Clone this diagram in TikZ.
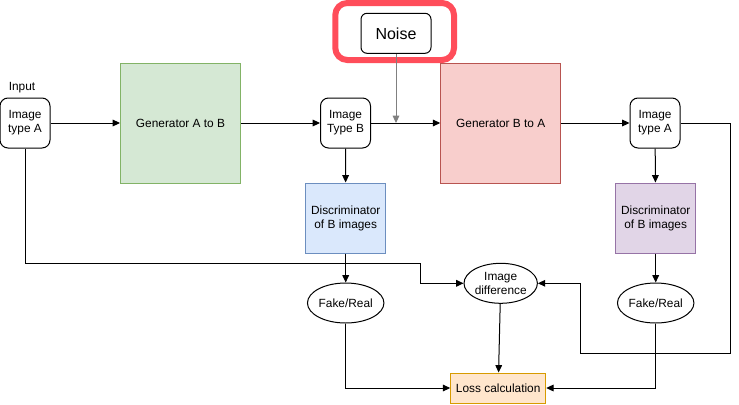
\documentclass[tikz,border=0pt]{standalone}
\usepackage{fontspec}
\setmainfont{Liberation Sans}
\usetikzlibrary{shapes.geometric,arrows.meta}
\tikzset{every picture/.style={line width=0.75pt}}

\definecolor{genAfill}{HTML}{D5E8D4}
\definecolor{genAdraw}{HTML}{82B366}
\definecolor{genBfill}{HTML}{F8CECC}
\definecolor{genBdraw}{HTML}{B85450}
\definecolor{discBfill}{HTML}{DAE8FC}
\definecolor{discBdraw}{HTML}{6C8EBF}
\definecolor{discAfill}{HTML}{E1D5E7}
\definecolor{discAdraw}{HTML}{9673A6}
\definecolor{lossfill}{HTML}{FFE6CC}
\definecolor{lossdraw}{HTML}{D79B00}
\definecolor{hilite}{HTML}{FF4D5A}

\begin{document}
\begin{tikzpicture}[x=0.75pt,y=0.75pt,yscale=-1,xscale=1,
  font=\fontsize{8.9}{10.6}\selectfont,
  imgbox/.style={draw, rounded corners=6pt, minimum width=37.5pt, minimum height=37.5pt, align=center, inner sep=1pt},
  genbox/.style={draw, minimum width=90pt, minimum height=90pt},
  discbox/.style={draw, minimum width=60pt, minimum height=52.5pt, align=center, inner sep=1pt},
  oval/.style={draw, ellipse, minimum width=52.5pt, minimum height=30pt, inner sep=0pt, align=center},
  arr/.style={-{Triangle[length=5.5pt,width=5pt]}},
]
\useasboundingbox (0,0) rectangle (739,404);

%Rounded Rect: highlight round noise
\draw [color=hilite, line width=4.5pt, rounded corners=9pt] (335.3,3) rectangle (454,60);

%Shapes
\node [imgbox] (imgA) at (25,123) {Image\\type A};
\node [genbox, fill=genAfill, draw=genAdraw] (genAB) at (180.5,123) {Generator A to B};
\node [imgbox] (imgB) at (345.5,123) {Image\\Type B};
\node [draw, rounded corners=4.5pt, minimum width=52.5pt, minimum height=30pt, font=\fontsize{12}{14}\selectfont] (noise) at (396,33.3) {Noise};
\node [genbox, fill=genBfill, draw=genBdraw] (genBA) at (500.7,123) {Generator B to A};
\node [imgbox] (imgA2) at (655,123) {Image\\type A};
\node [discbox, fill=discBfill, draw=discBdraw] (discB) at (345.7,218) {Discriminator\\of B images};
\node [discbox, fill=discAfill, draw=discAdraw] (discA) at (655.7,218) {Discriminator\\of B images};
\node [oval] (fakeB) at (345.7,303) {Fake/Real};
\node [oval] (fakeA) at (655.7,303) {Fake/Real};
\node [oval] (diff) at (500.7,283.3) {Image\\difference};
\node [draw=lossdraw, fill=lossfill, minimum width=71.25pt, minimum height=22.5pt, inner sep=1pt] (loss) at (498.2,388) {Loss calculation};

% Text Node
\node (input) at (22,88) {Input};

%Connectors
\draw [arr] (imgA) -- (genAB);
\draw [arr] (genAB) -- (imgB);
\draw [arr] (imgB) -- (genBA);
\draw [arr, color=gray] (noise) -- (noise |- imgB.east);
\draw [arr] (genBA) -- (imgA2);
\draw [arr] (imgB) -- (discB);
\draw [arr] (discB) -- (fakeB);
\draw [arr] (imgA2) -- (discA);
\draw [arr] (discA) -- (fakeA);
\draw [arr] (imgA.south) -- (imgA.south |- 0,263.3) -| (420,283.3) -- (diff.west);
\draw [arr] (imgA2.east) -| (730.7,353) -| (580.7,283.3) -- (diff.east);
\draw [arr] (diff) -- (loss);
\draw [arr] (fakeB.south) |- (loss.west);
\draw [arr] (fakeA.south) |- (loss.east);

\end{tikzpicture}
\end{document}
